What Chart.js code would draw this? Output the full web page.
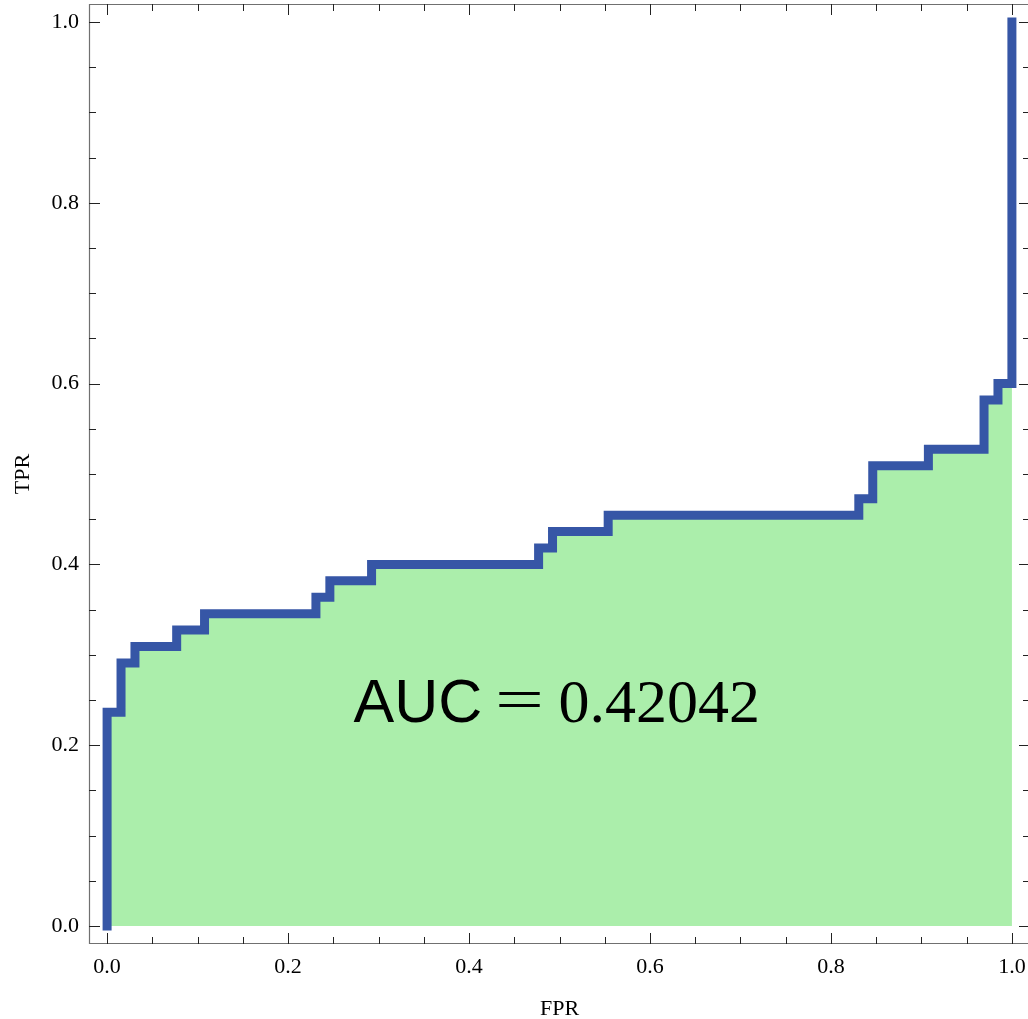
<!DOCTYPE html>
<html>
<head>
<meta charset="utf-8">
<title>ROC curve</title>
<script src="https://cdn.jsdelivr.net/npm/chart.js@4/dist/chart.umd.min.js"></script>
<style>
  html, body { margin: 0; padding: 0; background: #ffffff; overflow: hidden; }
  #wrap { width: 1034px; height: 1019px; }
</style>
</head>
<body>
<div id="wrap"><canvas id="roc" width="1034" height="1019"></canvas></div>
<script>
// ROC curve vertices: each point is where the curve steps up (false positive rate, true positive rate)
const fpr = [0, 0, 0.0154, 0.0308, 0.0769, 0.1077, 0.2308, 0.2462, 0.2923, 0.4769, 0.4923, 0.5538, 0.8308, 0.8462, 0.9077, 0.9692, 0.9846, 1.0];
const tpr = [0, 0.2364, 0.2909, 0.3091, 0.3273, 0.3455, 0.3636, 0.3818, 0.4000, 0.4182, 0.4364, 0.4545, 0.4727, 0.5091, 0.5273, 0.5818, 0.6000, 1.0];

// Axis ticks
const majorTicks = [0, 0.2, 0.4, 0.6, 0.8, 1.0];
const minorTicks = [0.05, 0.1, 0.15, 0.25, 0.3, 0.35, 0.45, 0.5, 0.55, 0.65, 0.7, 0.75, 0.85, 0.9, 0.95];

// Annotation
const aucText = { name: 'AUC', value: '0.42042', x: 0.5, y: 0.25 };

const LINE_BLUE = '#3656a6';
const FILL_GREEN = '#abeeab';
const FRAME = '#707070';
const TICK = '#222222';
const SERIF = '"Liberation Serif", "Times New Roman", serif';

const points = fpr.map((x, i) => ({ x: x, y: tpr[i] }));

// Mathematica-style frame with inward ticks on all four sides, plus axis titles
const framePlugin = {
  id: 'frame',
  afterDraw(chart) {
    const { ctx, chartArea: a, scales: { x, y } } = chart;
    ctx.save();
    ctx.strokeStyle = FRAME;
    ctx.lineWidth = 1.2;
    ctx.beginPath();
    ctx.rect(a.left + 0.5, a.top + 0.5, a.right - a.left - 1, a.bottom - a.top - 1);
    ctx.stroke();

    ctx.strokeStyle = TICK;
    ctx.lineWidth = 1;
    const drawX = (v, len) => {
      const px = Math.round(x.getPixelForValue(v)) + 0.5;
      ctx.moveTo(px, a.bottom); ctx.lineTo(px, a.bottom - len);
      ctx.moveTo(px, a.top); ctx.lineTo(px, a.top + len);
    };
    const drawY = (v, len) => {
      const py = Math.round(y.getPixelForValue(v)) + 0.5;
      ctx.moveTo(a.left, py); ctx.lineTo(a.left + len, py);
      ctx.moveTo(a.right, py); ctx.lineTo(a.right - len, py);
    };
    ctx.beginPath();
    majorTicks.forEach(v => { drawX(v, 11); drawY(v, 11); });
    minorTicks.forEach(v => { drawX(v, 7); drawY(v, 7); });
    ctx.stroke();

    // axis titles
    ctx.fillStyle = '#000';
    ctx.font = '22px ' + SERIF;
    ctx.textAlign = 'center';
    ctx.textBaseline = 'alphabetic';
    ctx.fillText('FPR', x.getPixelForValue(0.5), 1015);
    ctx.save();
    ctx.translate(29, y.getPixelForValue(0.5));
    ctx.rotate(-Math.PI / 2);
    ctx.fillText('TPR', 0, 0);
    ctx.restore();
    ctx.restore();
  }
};

// AUC label inside the shaded area
const aucPlugin = {
  id: 'aucLabel',
  afterDatasetsDraw(chart) {
    const { ctx, scales: { x, y } } = chart;
    const cx = x.getPixelForValue(aucText.x);
    const base = y.getPixelForValue(aucText.y) + 22;
    ctx.save();
    ctx.fillStyle = '#000';
    ctx.textBaseline = 'alphabetic';
    ctx.textAlign = 'left';
    ctx.font = '61px "Liberation Sans", Arial, sans-serif';
    ctx.fillText(aucText.name, cx - 206, base);
    // thin, wide equals sign
    ctx.save();
    ctx.font = '62px ' + SERIF;
    ctx.textAlign = 'center';
    ctx.translate(cx - 40, base - 2);
    ctx.scale(1.4, 1);
    ctx.fillText('=', 0, 0);
    ctx.restore();
    ctx.textAlign = 'left';
    ctx.font = '62px ' + SERIF;
    ctx.fillText(aucText.value, cx - 1, base);
    ctx.restore();
  }
};

new Chart(document.getElementById('roc'), {
  type: 'line',
  data: {
    datasets: [{
      data: points,
      stepped: 'before',
      borderColor: LINE_BLUE,
      borderWidth: 9,
      borderCapStyle: 'square',
      borderJoinStyle: 'miter',
      backgroundColor: FILL_GREEN,
      fill: 'origin',
      pointRadius: 0,
      tension: 0
    }]
  },
  options: {
    responsive: false,
    animation: false,
    events: [],
    layout: { padding: { top: 4, right: 4, left: 0, bottom: 0 } },
    plugins: { legend: { display: false }, tooltip: { enabled: false } },
    scales: {
      x: {
        type: 'linear',
        min: -0.02,
        max: 1.02,
        grid: { display: false, drawTicks: false },
        border: { display: false },
        afterBuildTicks: s => { s.ticks = majorTicks.map(v => ({ value: v })); },
        afterFit: s => { s.height = 75; s.paddingLeft = 0; s.paddingRight = 0; },
        ticks: {
          padding: 10,
          color: '#000',
          font: { family: SERIF, size: 22 },
          maxRotation: 0,
          callback: v => Number(v).toFixed(1)
        }
      },
      y: {
        type: 'linear',
        min: -0.02,
        max: 1.02,
        grid: { display: false, drawTicks: false },
        border: { display: false },
        afterBuildTicks: s => { s.ticks = majorTicks.map(v => ({ value: v })); },
        afterFit: s => { s.width = 89; s.paddingTop = 0; s.paddingBottom = 0; },
        ticks: {
          padding: 10,
          color: '#000',
          font: { family: SERIF, size: 22 },
          callback: v => Number(v).toFixed(1)
        }
      }
    }
  },
  plugins: [framePlugin, aucPlugin]
});
</script>
</body>
</html>
